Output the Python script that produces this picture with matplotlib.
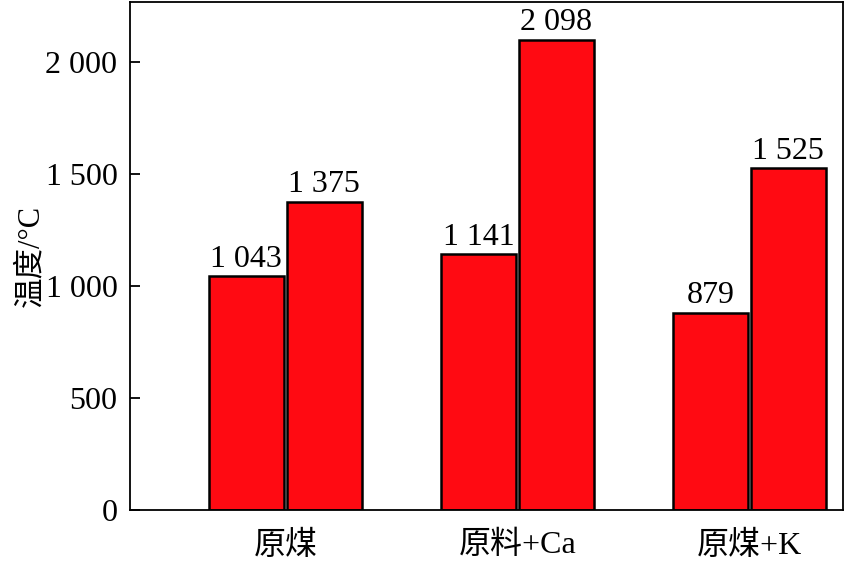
import matplotlib
matplotlib.use("Agg")
import matplotlib.pyplot as plt
from matplotlib.ticker import FuncFormatter
import numpy as np

plt.rcParams['font.family'] = ['Liberation Serif', 'Noto Sans CJK SC']

categories = ["原煤", "原料+Ca", "原煤+K"]
series_a = [1043, 1141, 879]
series_b = [1375, 2098, 1525]
y_ticks = [0, 500, 1000, 1500, 2000]


def fmt(v):
    # thousands separated by a space, as in the figure
    return f"{int(v):,}".replace(",", " ")


fig = plt.figure(figsize=(8.66, 5.61), dpi=100)
ax = fig.add_axes([0.150, 0.0909, 0.8234, 0.9055])

x = np.arange(len(categories))
width = 0.322
offset = 0.168
bar_color = '#FF0A12'

bars_a = ax.bar(x - offset, series_a, width, color=bar_color,
                edgecolor='black', linewidth=1.8)
bars_b = ax.bar(x + offset, series_b, width, color=bar_color,
                edgecolor='black', linewidth=1.8)

for bars in (bars_a, bars_b):
    for b in bars:
        h = b.get_height()
        ax.annotate(fmt(h), (b.get_x() + b.get_width() / 2, h),
                    xytext=(0, 2), textcoords='offset points',
                    ha='center', va='bottom', fontsize=23)

ax.set_xlim(-0.670, 2.403)
ax.set_ylim(0, 2268)
ax.set_xticks(x)
ax.set_xticklabels(categories, fontsize=23)
ax.set_yticks(y_ticks)
ax.yaxis.set_major_formatter(FuncFormatter(lambda v, p: fmt(v)))
ax.tick_params(axis='y', direction='in', length=7, width=1.3, labelsize=23, pad=9)
ax.tick_params(axis='x', length=0, pad=15)
ax.set_ylabel("温度/°C", fontsize=22, labelpad=0)

for s in ax.spines.values():
    s.set_linewidth(1.3)

fig.savefig("out.png", dpi=100)
